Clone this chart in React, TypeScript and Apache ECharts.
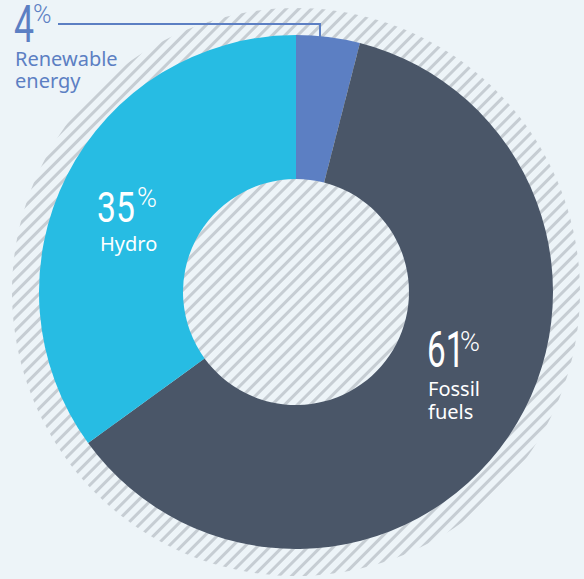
import React, { useEffect, useRef } from "react";
import * as echarts from "echarts";

const categories = ["Renewable energy", "Fossil fuels", "Hydro"];
const values = [4, 61, 35];
const nameLines = [["Renewable", "energy"], ["Fossil", "fuels"], ["Hydro"]];

const sliceColors = ["#5c7fc3", "#4a5668", "#27bce3"];
const labelColors = ["#5c7fc3", "#ffffff", "#ffffff"];
const BG = "#edf4f8";
const CX = 296;
const CY = 292;

// label layout (positions only)
const labelLayout = [
  { numX: 14, numY: 25, numSize: 51, scale: 0.7, pctX: 33, pctY: 14, pctSize: 25, nameX: 15, nameTop: 47, lh: 22 },
  { numX: 427, numY: 350, numSize: 49, scale: 0.68, pctX: 460, pctY: 342, pctSize: 27, nameX: 428, nameTop: 376.5, lh: 23 },
  { numX: 97, numY: 208, numSize: 42, scale: 0.8, pctX: 137, pctY: 198, pctSize: 27, nameX: 100, nameTop: 232, lh: 22 },
];

export default function App() {
  const ref = useRef<HTMLDivElement>(null);
  useEffect(() => {
    if (!ref.current) return;
    const chart = echarts.init(ref.current, null, { renderer: "svg" });
    const graphics: any[] = [];
    values.forEach((v, i) => {
      const L = labelLayout[i];
      graphics.push({
        type: "text",
        x: L.numX,
        y: L.numY,
        scaleX: L.scale,
        z: 10,
        style: {
          text: String(v),
          fill: labelColors[i],
          fontFamily: "Roboto",
          fontWeight: 400,
          fontSize: L.numSize,
          lineHeight: Math.round(L.numSize * 0.74),
          textAlign: "left",
          textVerticalAlign: "middle",
        },
      });
      graphics.push({
        type: "text",
        x: L.pctX,
        y: L.pctY,
        z: 10,
        style: {
          text: "%",
          fill: labelColors[i],
          fontFamily: "Roboto",
          fontWeight: 300,
          fontSize: L.pctSize,
          lineHeight: Math.round(L.pctSize * 0.74),
          textAlign: "left",
          textVerticalAlign: "middle",
        },
      });
      graphics.push({
        type: "text",
        x: L.nameX,
        y: L.nameTop,
        z: 10,
        style: {
          text: nameLines[i].join("\n"),
          fill: labelColors[i],
          fontFamily: "Noto Sans",
          fontSize: 20,
          lineHeight: L.lh,
          textAlign: "left",
          textVerticalAlign: "top",
        },
      });
    });
    graphics.push({
      type: "polyline",
      z: 5,
      shape: { points: [[58, 24], [320, 24], [320, 37]] },
      style: { stroke: sliceColors[0], lineWidth: 2, fill: null },
    });

    chart.setOption({
      animation: false,
      backgroundColor: BG,
      series: [
        {
          type: "pie",
          silent: true,
          center: [CX, CY],
          radius: [0, 284],
          z: 1,
          label: { show: false },
          labelLine: { show: false },
          emphasis: { disabled: true },
          data: [
            {
              value: 1,
              name: "hatch",
              itemStyle: {
                color: BG,
                decal: {
                  symbol: "rect",
                  symbolSize: 1,
                  color: "#c6cdd3",
                  backgroundColor: BG,
                  dashArrayX: [[8, 0]],
                  dashArrayY: [3, 6],
                  rotation: -Math.PI / 4,
                },
              },
            },
          ],
        },
        {
          type: "pie",
          silent: true,
          center: [CX, CY],
          radius: [113, 257],
          startAngle: 90,
          clockwise: true,
          z: 2,
          label: { show: false },
          labelLine: { show: false },
          emphasis: { disabled: true },
          data: categories.map((c, i) => ({
            name: c,
            value: values[i],
            itemStyle: { color: sliceColors[i] },
          })),
        },
      ],
      graphic: graphics,
    });
    return () => chart.dispose();
  }, []);
  return (
    <div
      ref={ref}
      style={{ position: "fixed", left: 0, top: 0, width: 584, height: 579, background: BG }}
    />
  );
}
